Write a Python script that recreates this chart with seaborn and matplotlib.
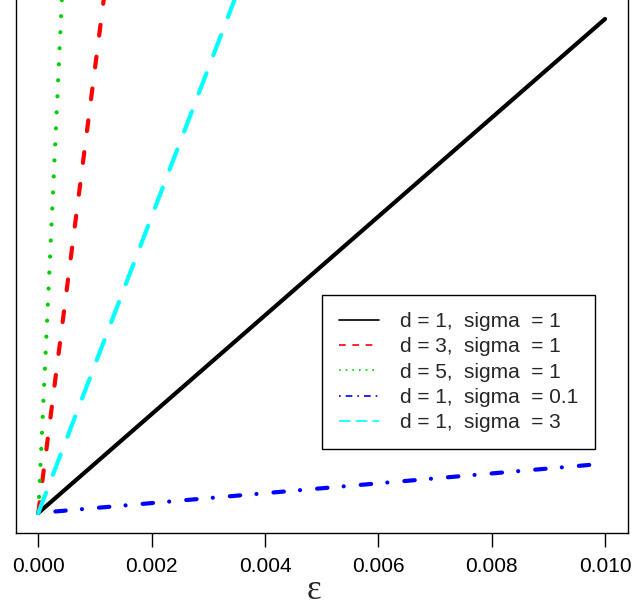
import numpy as np
import pandas as pd
import matplotlib
matplotlib.use('Agg')
import matplotlib.pyplot as plt
from matplotlib.lines import Line2D
import seaborn as sns

# data: every curve is a straight line from the origin
eps_start = 0.0
eps_end = 0.010
labels = ['d = 1,  sigma  = 1', 'd = 3,  sigma  = 1', 'd = 5,  sigma  = 1',
          'd = 1,  sigma  = 0.1', 'd = 1,  sigma  = 3']
y_start = [0.0, 0.0, 0.0, 0.0, 0.0]
y_end = [1.0, 9.0, 25.0, 0.1, 3.0]   # value at eps = 0.010 (black line = 1)
colors = ['#000000', '#ff0000', '#00cd00', '#0000ff', '#00ffff']
xticks = [0.000, 0.002, 0.004, 0.006, 0.008, 0.010]
xtick_labels = ['0.000', '0.002', '0.004', '0.006', '0.008', '0.010']

# dash patterns (in units of line width), R lty 1..5
main_dashes = ['', (2.6, 5.1), (0.01, 3.84), (0.01, 4.1, 2.5, 3.9), (5.2, 4.6)]
legend_dashes = [None, (4, 4), (1, 3), (1, 3, 4, 3), (7, 3)]

rows = []
for lab, y0, y1 in zip(labels, y_start, y_end):
    rows.append({'eps': eps_start, 'val': y0, 'label': lab})
    rows.append({'eps': eps_end, 'val': y1, 'label': lab})
df = pd.DataFrame(rows)

sns.set_theme(style='white')
plt.rcParams['font.family'] = ['Liberation Sans', 'DejaVu Sans']

fig = plt.figure(figsize=(6.32, 6.11), dpi=100)
ax = fig.add_axes([0.0247, 0.1277, 0.9685, 0.8838])

sns.lineplot(data=df, x='eps', y='val', hue='label', style='label',
             hue_order=labels, style_order=labels,
             palette=dict(zip(labels, colors)),
             dashes=dict(zip(labels, main_dashes)),
             linewidth=3, legend=False, ax=ax)
for ln in ax.lines:
    ln.set_dash_capstyle('round')
    ln.set_solid_capstyle('round')

ax.set_xlim(-0.0004, 0.0104)
ax.set_ylim(-0.0405, 1.0526)
ax.set_xticks(xticks)
ax.set_xticklabels(xtick_labels)
ax.set_yticks([])
ax.set_ylabel('')
ax.tick_params(axis='x', length=10, width=1, pad=7, labelsize=15,
               colors='black', bottom=True)
for sp in ax.spines.values():
    sp.set_visible(True)
    sp.set_color('black')
    sp.set_linewidth(1)

ax.set_xlabel('ε', fontsize=25, family=['Liberation Serif', 'DejaVu Serif'])
ax.xaxis.set_label_coords(0.4875, -0.107)
ax.xaxis.label.set_va('center')

handles = []
for c, d in zip(colors, legend_dashes):
    if d is None:
        handles.append(Line2D([], [], color=c, lw=1.2, linestyle='-'))
    else:
        handles.append(Line2D([], [], color=c, lw=1.2, dashes=d))
leg = ax.legend(handles, labels, loc='upper left',
                bbox_to_anchor=(322 / 632, 1 - 295 / 611),
                bbox_transform=fig.transFigure, borderaxespad=0,
                frameon=True, fancybox=False, edgecolor='black', framealpha=1,
                handlelength=1.9, handletextpad=1.0, labelspacing=0.3,
                borderpad=0.82, fontsize=15)
leg.get_frame().set_linewidth(1)

fig.savefig('out.png', dpi=100)
